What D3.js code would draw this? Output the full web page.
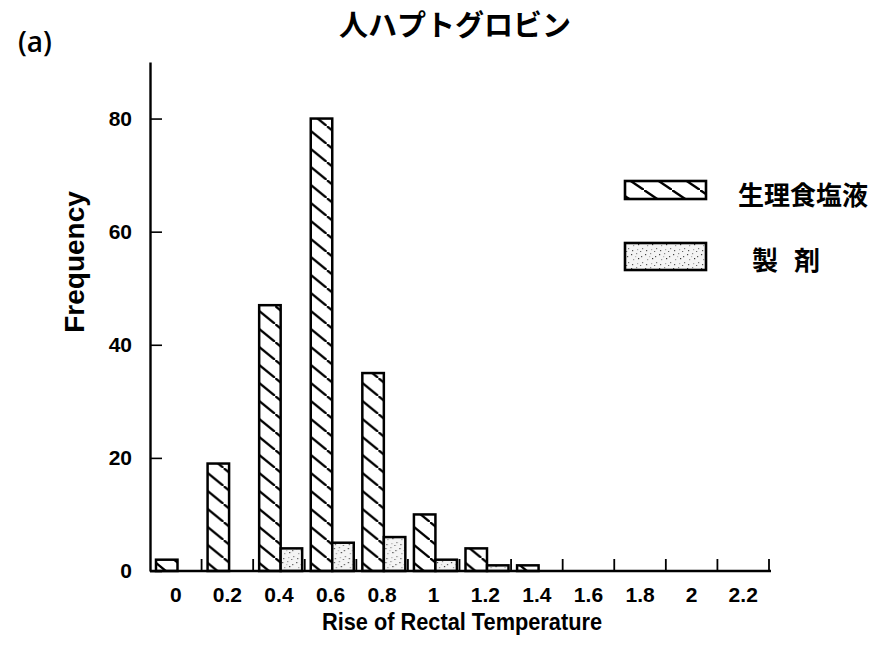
<!DOCTYPE html>
<html>
<head>
<meta charset="utf-8">
<script src="https://cdn.jsdelivr.net/npm/d3@7.9.0/dist/d3.min.js"></script>
<style>
  body { margin: 0; background: #fff; }
  svg { display: block; }
  .num { font-family: "Liberation Sans", Arial, sans-serif; font-weight: bold; }
  .jp { font-family: "Noto Sans CJK JP", sans-serif; font-weight: bold; }
</style>
</head>
<body>
<svg id="chart" width="874" height="661"></svg>
<script>
// histogram data
const categories = ['0', '0.2', '0.4', '0.6', '0.8', '1', '1.2', '1.4', '1.6', '1.8', '2', '2.2'];
const saline = [2, 19, 47, 80, 35, 10, 4, 1, 0, 0, 0, 0];
const drug = [0, 0, 4, 5, 6, 2, 1, 0, 0, 0, 0, 0];
const seriesKeys = ['saline', 'drug'];
const seriesNames = ['生理食塩液', '製 剤'];
const yTicks = [0, 20, 40, 60, 80];

const svg = d3.select('#chart');
const defs = svg.append('defs');

// hatch for saline bars
function hatch(id, w, h, sw) {
  const p = defs.append('pattern')
    .attr('id', id)
    .attr('patternUnits', 'userSpaceOnUse')
    .attr('width', w)
    .attr('height', h);
  p.append('rect').attr('width', w).attr('height', h).attr('fill', '#fff');
  [[-w, -h], [0, 0], [w, h]].forEach(([dx, dy]) => {
    p.append('line')
      .attr('x1', dx).attr('y1', dy)
      .attr('x2', dx + w).attr('y2', dy + h)
      .attr('stroke', '#000')
      .attr('stroke-width', sw);
  });
}
hatch('hatch', 22, 18, 2.3);
hatch('hatch-legend', 28, 19, 2.3);

// stipple for drug bars
const dots = defs.append('pattern')
  .attr('id', 'dots')
  .attr('patternUnits', 'userSpaceOnUse')
  .attr('width', 14)
  .attr('height', 14);
dots.append('rect').attr('width', 14).attr('height', 14).attr('fill', '#f4f4f4');
const specks = [[1, 2, '#444'], [6, 1, '#888'], [11, 4, '#555'], [3, 7, '#999'], [8, 6, '#333'],
  [12, 10, '#777'], [2, 12, '#555'], [7, 11, '#aaa'], [5, 4, '#bbb'], [10, 13, '#666']];
specks.forEach(([sx, sy, c]) => {
  dots.append('rect').attr('x', sx).attr('y', sy).attr('width', 1.2).attr('height', 1.2).attr('fill', c);
});

const x0 = d3.scaleBand().domain(categories).range([150, 769]);
const x1 = d3.scaleBand().domain(seriesKeys).range([6, 49]);
const y = d3.scaleLinear().domain([0, 90]).range([571, 62]);

const rows = categories.map((c, i) => ({ cat: c, saline: saline[i], drug: drug[i] }));

// bars
const groups = svg.append('g').selectAll('g')
  .data(rows)
  .join('g')
  .attr('transform', (d) => `translate(${x0(d.cat)},0)`);

groups.selectAll('rect')
  .data((d) => seriesKeys.map((k) => ({ key: k, value: d[k] })).filter((e) => e.value > 0))
  .join('rect')
  .attr('x', (d) => x1(d.key))
  .attr('y', (d) => y(d.value))
  .attr('width', x1.bandwidth())
  .attr('height', (d) => y(0) - y(d.value))
  .attr('fill', (d) => (d.key === 'saline' ? 'url(#hatch)' : 'url(#dots)'))
  .attr('stroke', '#000')
  .attr('stroke-width', 2.5);

// y axis, ticks pointing inward
const yAxis = svg.append('g')
  .attr('transform', 'translate(150,0)')
  .call(d3.axisLeft(y).tickValues(yTicks).tickSize(-12).tickSizeOuter(0).tickPadding(18));
yAxis.select('.domain').attr('stroke-width', 2.4);
yAxis.selectAll('.tick line').attr('stroke-width', 1.6);
yAxis.selectAll('text').attr('class', 'num').attr('font-size', 21).attr('fill', '#000');

// x axis: labels at band centres, ticks at band edges
const xAxis = svg.append('g')
  .attr('transform', 'translate(0,571)')
  .call(d3.axisBottom(x0).tickSize(0).tickPadding(16));
xAxis.select('.domain').remove();
xAxis.selectAll('text').attr('class', 'num').attr('font-size', 21).attr('fill', '#000');

svg.append('line')
  .attr('x1', 150).attr('x2', 771)
  .attr('y1', 571).attr('y2', 571)
  .attr('stroke', '#000').attr('stroke-width', 2.4);

svg.append('g').selectAll('line')
  .data(categories)
  .join('line')
  .attr('x1', (d) => x0(d) + x0.bandwidth())
  .attr('x2', (d) => x0(d) + x0.bandwidth())
  .attr('y1', 571).attr('y2', 559)
  .attr('stroke', '#000').attr('stroke-width', 1.8);

// titles
svg.append('text').attr('class', 'jp')
  .attr('x', 455).attr('y', 36)
  .attr('text-anchor', 'middle')
  .attr('font-size', 29)
  .text('人ハプトグロビン');

svg.append('text')
  .attr('x', 18).attr('y', 52)
  .attr('font-family', '"Open Sans", sans-serif')
  .attr('font-weight', 600)
  .attr('font-size', 28)
  .text('(a)');

svg.append('text').attr('class', 'num')
  .attr('transform', 'translate(84,262) rotate(-90)')
  .attr('text-anchor', 'middle')
  .attr('font-size', 28)
  .text('Frequency');

svg.append('text').attr('class', 'num')
  .attr('x', 322).attr('y', 630)
  .attr('font-size', 24)
  .attr('textLength', 280)
  .attr('lengthAdjust', 'spacingAndGlyphs')
  .text('Rise of Rectal Temperature');

// legend
const legend = [
  { fill: 'url(#hatch-legend)', y: 181, h: 18, tx: 738, ty: 193 },
  { fill: 'url(#dots)', y: 243, h: 27, tx: 752, ty: 258 },
];
legend.forEach((l, i) => {
  svg.append('rect')
    .attr('x', 625).attr('y', l.y)
    .attr('width', 81).attr('height', l.h)
    .attr('fill', l.fill)
    .attr('stroke', '#000').attr('stroke-width', 2.6);
  svg.append('text').attr('class', 'jp')
    .attr('x', l.tx).attr('y', l.ty)
    .attr('dominant-baseline', 'central')
    .attr('font-size', 26)
    .attr('word-spacing', 10)
    .text(seriesNames[i]);
});
</script>
</body>
</html>
